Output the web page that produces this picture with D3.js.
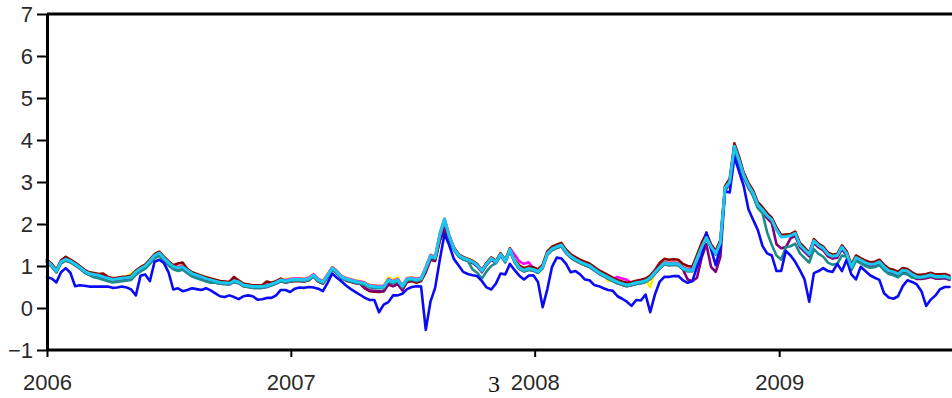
<!DOCTYPE html>
<html>
<head>
<meta charset="utf-8">
<script src="https://cdn.jsdelivr.net/npm/d3@7"></script>
<style>
  html, body { margin: 0; padding: 0; background: #fff; }
  svg { display: block; }
</style>
</head>
<body>
<svg id="chart" width="952" height="398"></svg>
<script>
// Weekly observations starting on the first Sunday of 2006
const weekStart = new Date(2006, 0, 1);

const yTicks = [-1, 0, 1, 2, 3, 4, 5, 6, 7];
const xTickYears = [2006, 2007, 2008, 2009];

const darkRedSeries = [
1.15,1.05,0.91,1.13,1.22,1.15,1.08,1.00,0.91,0.85,
0.83,0.81,0.82,0.74,0.71,0.72,0.74,0.75,0.77,0.89,
0.97,1.03,1.15,1.28,1.34,1.22,1.11,1.02,1.06,1.08,
0.93,0.85,0.81,0.77,0.73,0.70,0.67,0.64,0.63,0.62,
0.74,0.65,0.58,0.56,0.54,0.54,0.54,0.63,0.60,0.64,
0.70,0.60,0.63,0.64,0.64,0.63,0.66,0.76,0.63,0.58,
0.74,0.93,0.84,0.71,0.65,0.62,0.59,0.57,0.46,0.40,
0.39,0.38,0.40,0.56,0.52,0.57,0.44,0.62,0.64,0.60,
0.64,0.85,1.15,1.12,1.60,1.88,1.65,1.44,1.28,1.21,
1.17,1.12,1.04,0.90,1.07,1.20,1.12,1.30,1.14,1.42,
1.14,1.01,0.95,0.99,0.97,0.92,1.03,1.35,1.46,1.51,
1.55,1.39,1.28,1.21,1.15,1.10,1.06,0.98,0.90,0.84,
0.78,0.72,0.67,0.63,0.60,0.62,0.65,0.67,0.70,0.77,
0.90,1.07,1.17,1.15,1.16,1.15,1.05,1.00,0.98,1.26,
1.55,1.78,1.52,1.36,1.62,2.90,3.08,3.92,3.60,3.22,
2.98,2.80,2.52,2.40,2.26,2.15,1.92,1.74,1.75,1.76,
1.82,1.55,1.44,1.32,1.64,1.53,1.46,1.32,1.27,1.29,
1.49,1.35,1.03,1.25,1.19,1.13,1.09,1.10,1.15,1.03,
0.94,0.91,0.86,0.95,0.93,0.85,0.79,0.79,0.81,0.84,
0.80,0.80,0.81,0.77];

const purpleSeries = [
1.09,0.99,0.85,1.07,1.13,1.09,1.02,0.94,0.85,0.79,
0.77,0.75,0.71,0.68,0.65,0.66,0.68,0.69,0.71,0.83,
0.91,0.97,1.09,1.22,1.28,1.16,1.05,0.96,0.92,0.95,
0.87,0.79,0.75,0.71,0.67,0.64,0.61,0.58,0.57,0.56,
0.62,0.59,0.52,0.50,0.48,0.48,0.48,0.50,0.54,0.58,
0.64,0.61,0.64,0.65,0.65,0.64,0.67,0.75,0.64,0.59,
0.75,0.92,0.83,0.71,0.66,0.63,0.60,0.58,0.48,0.42,
0.41,0.40,0.40,0.57,0.52,0.57,0.42,0.66,0.67,0.64,
0.67,0.88,1.18,1.14,1.62,1.90,1.66,1.39,1.23,1.16,
1.12,1.07,0.99,0.85,1.02,1.15,1.07,1.25,1.09,1.37,
1.09,0.93,0.87,0.91,0.89,0.84,0.95,1.27,1.38,1.43,
1.47,1.31,1.20,1.13,1.07,1.02,0.98,0.90,0.82,0.76,
0.70,0.64,0.59,0.55,0.52,0.54,0.57,0.59,0.62,0.69,
0.82,0.94,1.04,1.02,1.03,1.02,0.92,0.68,0.64,0.72,
1.20,1.52,0.98,0.86,1.22,2.80,2.95,3.78,3.45,3.10,
2.86,2.68,2.40,2.28,2.14,2.02,1.52,1.42,1.45,1.66,
1.72,1.45,1.34,1.23,1.55,1.44,1.37,1.23,1.18,1.20,
1.40,1.25,0.93,1.15,1.09,1.03,0.99,1.00,1.05,0.93,
0.84,0.81,0.76,0.85,0.83,0.75,0.69,0.69,0.71,0.74,
0.70,0.70,0.71,0.67];

const magentaSeries = [
1.14,1.04,0.90,1.12,1.18,1.14,1.07,0.99,0.90,0.84,
0.82,0.80,0.76,0.73,0.70,0.71,0.73,0.74,0.76,0.88,
0.96,1.02,1.14,1.27,1.33,1.21,1.10,1.01,0.97,1.00,
0.92,0.84,0.80,0.76,0.72,0.69,0.66,0.63,0.62,0.61,
0.67,0.64,0.57,0.55,0.53,0.53,0.53,0.55,0.59,0.63,
0.69,0.66,0.69,0.70,0.70,0.69,0.72,0.80,0.69,0.64,
0.80,0.97,0.88,0.76,0.71,0.68,0.65,0.63,0.60,0.54,
0.53,0.52,0.52,0.69,0.64,0.69,0.54,0.71,0.72,0.69,
0.72,0.97,1.26,1.22,1.77,2.12,1.74,1.44,1.28,1.21,
1.17,1.12,1.04,0.90,1.07,1.20,1.12,1.30,1.14,1.42,
1.27,1.11,1.05,1.09,0.94,0.89,1.00,1.32,1.43,1.48,
1.52,1.36,1.25,1.18,1.12,1.07,1.03,0.95,0.87,0.81,
0.75,0.69,0.74,0.70,0.67,0.59,0.62,0.64,0.67,0.74,
0.87,0.99,1.09,1.07,1.08,1.07,0.97,0.92,0.92,1.20,
1.47,1.70,1.48,1.32,1.57,2.88,3.02,3.87,3.54,3.18,
2.94,2.76,2.48,2.36,2.22,2.12,1.88,1.71,1.72,1.74,
1.80,1.52,1.41,1.30,1.62,1.51,1.44,1.30,1.25,1.27,
1.47,1.32,1.00,1.22,1.16,1.10,1.06,1.07,1.12,1.00,
0.91,0.88,0.83,0.92,0.90,0.82,0.76,0.76,0.78,0.81,
0.77,0.77,0.78,0.74];

const yellowSeries = [
1.15,1.05,0.91,1.13,1.19,1.15,1.08,1.00,0.91,0.85,
0.83,0.81,0.77,0.74,0.71,0.72,0.74,0.75,0.82,0.89,
0.97,1.03,1.15,1.28,1.34,1.22,1.11,1.02,0.98,1.01,
0.93,0.85,0.81,0.77,0.73,0.70,0.67,0.64,0.63,0.62,
0.68,0.65,0.58,0.56,0.54,0.54,0.54,0.56,0.60,0.64,
0.70,0.67,0.70,0.71,0.71,0.70,0.73,0.81,0.70,0.65,
0.81,0.98,0.89,0.77,0.72,0.69,0.66,0.64,0.61,0.55,
0.54,0.53,0.53,0.73,0.68,0.73,0.55,0.72,0.73,0.70,
0.73,0.98,1.27,1.23,1.78,2.13,1.75,1.45,1.29,1.22,
1.18,1.13,1.05,0.91,1.08,1.21,1.13,1.31,1.15,1.43,
1.15,1.04,0.93,0.97,0.95,0.90,1.01,1.33,1.44,1.49,
1.53,1.37,1.26,1.19,1.13,1.08,1.04,0.96,0.88,0.82,
0.64,0.70,0.65,0.61,0.58,0.60,0.63,0.65,0.68,0.50,
0.88,1.00,1.10,1.08,1.09,1.08,0.98,0.93,0.93,1.21,
1.48,1.71,1.49,1.33,1.58,2.89,3.03,3.88,3.55,3.19,
2.95,2.77,2.49,2.37,2.23,2.13,1.89,1.72,1.73,1.75,
1.81,1.53,1.42,1.31,1.63,1.52,1.45,1.31,1.26,1.28,
1.48,1.33,1.01,1.23,1.17,1.11,1.07,1.08,1.13,1.01,
0.92,0.89,0.84,0.93,0.91,0.83,0.77,0.77,0.79,0.82,
0.78,0.78,0.79,0.75];

const tealSeries = [
1.09,0.99,0.85,1.07,1.13,1.09,1.02,0.94,0.85,0.79,
0.73,0.71,0.67,0.64,0.61,0.62,0.64,0.65,0.67,0.79,
0.87,0.93,1.05,1.18,1.24,1.12,1.01,0.92,0.88,0.91,
0.83,0.75,0.71,0.67,0.63,0.60,0.61,0.58,0.57,0.56,
0.62,0.59,0.52,0.50,0.48,0.48,0.48,0.50,0.54,0.58,
0.64,0.61,0.64,0.65,0.65,0.64,0.67,0.75,0.64,0.59,
0.75,0.92,0.83,0.71,0.66,0.63,0.60,0.58,0.55,0.49,
0.48,0.47,0.47,0.64,0.59,0.64,0.49,0.66,0.67,0.64,
0.67,0.92,1.21,1.17,1.72,2.07,1.69,1.39,1.23,1.16,
1.12,0.92,0.84,0.70,0.87,1.00,1.07,1.25,1.09,1.37,
1.09,0.93,0.87,0.91,0.89,0.84,0.95,1.27,1.38,1.43,
1.47,1.31,1.20,1.13,1.07,1.02,0.98,0.90,0.82,0.76,
0.70,0.64,0.59,0.55,0.52,0.54,0.57,0.59,0.62,0.69,
0.82,0.94,1.04,1.02,1.03,1.02,0.92,0.87,0.87,1.15,
1.42,1.65,1.43,1.27,1.52,2.83,2.97,3.82,3.49,3.13,
2.89,2.66,2.38,2.26,1.80,1.50,1.25,1.15,1.45,1.47,
1.53,1.30,1.19,1.08,1.40,1.29,1.22,1.08,1.03,1.05,
1.25,1.22,0.90,1.12,1.06,1.00,0.96,0.97,1.02,0.90,
0.81,0.78,0.73,0.82,0.80,0.72,0.72,0.72,0.74,0.77,
0.73,0.73,0.74,0.70];

const blueSeries = [
0.74,0.70,0.61,0.85,0.95,0.84,0.52,0.54,0.53,0.51,
0.51,0.51,0.51,0.51,0.48,0.49,0.51,0.49,0.44,0.30,
0.77,0.80,0.64,1.10,1.15,1.07,0.85,0.44,0.47,0.40,
0.43,0.47,0.45,0.43,0.47,0.42,0.35,0.28,0.26,0.30,
0.26,0.21,0.28,0.30,0.28,0.20,0.21,0.24,0.24,0.30,
0.43,0.43,0.38,0.46,0.49,0.48,0.50,0.49,0.46,0.40,
0.60,0.82,0.72,0.63,0.53,0.45,0.38,0.31,0.24,0.19,
0.19,-0.10,0.08,0.14,0.30,0.30,0.34,0.45,0.50,0.52,
0.51,-0.52,0.15,0.48,1.15,1.76,1.50,1.17,1.02,0.86,
0.81,0.78,0.76,0.64,0.49,0.44,0.58,0.82,0.80,1.05,
0.90,0.77,0.68,0.77,0.78,0.62,0.02,0.45,0.98,1.20,
1.18,1.05,0.85,0.88,0.80,0.68,0.66,0.55,0.52,0.47,
0.43,0.41,0.28,0.22,0.15,0.05,0.19,0.18,0.32,-0.10,
0.32,0.62,0.74,0.74,0.76,0.76,0.66,0.60,0.64,0.98,
1.25,1.80,1.40,1.02,1.45,2.78,2.75,3.60,3.25,2.90,
2.35,2.10,1.86,1.48,1.30,1.25,0.88,0.88,1.36,1.25,
1.10,0.90,0.68,0.15,0.83,0.88,0.95,0.88,0.86,1.05,
0.88,1.15,0.80,0.68,0.98,0.88,0.78,0.72,0.67,0.35,
0.25,0.22,0.28,0.52,0.66,0.62,0.56,0.40,0.05,0.20,
0.30,0.45,0.50,0.50];

const cyanSeries = [
1.12,1.02,0.88,1.10,1.16,1.12,1.05,0.97,0.88,0.82,
0.80,0.78,0.74,0.71,0.68,0.69,0.71,0.72,0.74,0.86,
0.94,1.00,1.12,1.25,1.31,1.19,1.08,0.99,0.95,0.98,
0.90,0.82,0.78,0.74,0.70,0.67,0.64,0.61,0.60,0.59,
0.65,0.62,0.55,0.53,0.51,0.51,0.51,0.53,0.57,0.61,
0.67,0.64,0.67,0.68,0.68,0.67,0.70,0.78,0.67,0.62,
0.78,0.95,0.86,0.74,0.69,0.66,0.63,0.61,0.58,0.52,
0.51,0.50,0.50,0.67,0.62,0.67,0.52,0.69,0.70,0.67,
0.70,0.95,1.24,1.20,1.75,2.12,1.72,1.42,1.26,1.19,
1.15,1.10,1.02,0.88,1.05,1.18,1.10,1.28,1.12,1.40,
1.12,0.96,0.90,0.94,0.92,0.87,0.98,1.30,1.41,1.46,
1.50,1.34,1.23,1.16,1.10,1.05,1.01,0.93,0.85,0.79,
0.73,0.67,0.62,0.58,0.55,0.57,0.60,0.62,0.65,0.72,
0.85,0.97,1.07,1.05,1.06,1.05,0.95,0.90,0.90,1.18,
1.45,1.68,1.46,1.30,1.55,2.86,3.00,3.85,3.52,3.16,
2.92,2.74,2.46,2.34,2.20,2.10,1.86,1.69,1.70,1.72,
1.78,1.50,1.39,1.28,1.60,1.49,1.42,1.28,1.23,1.25,
1.45,1.30,0.98,1.20,1.14,1.08,1.04,1.05,1.10,0.98,
0.89,0.86,0.81,0.90,0.88,0.80,0.74,0.74,0.76,0.79,
0.75,0.75,0.76,0.72];

const dates = d3.range(cyanSeries.length).map(i => d3.timeWeek.offset(weekStart, i));

// Drawing order: last entry ends up on top
const series = [
  { values: yellowSeries,  color: "#ffee00", width: 2.6 },
  { values: magentaSeries, color: "#ff00ff", width: 2.6 },
  { values: darkRedSeries, color: "#8b0000", width: 2.6 },
  { values: purpleSeries,  color: "#800080", width: 2.6 },
  { values: tealSeries,    color: "#1e8c8c", width: 2.6 },
  { values: blueSeries,    color: "#0a0af5", width: 2.6 },
  { values: cyanSeries,    color: "#18c8f0", width: 3 }
];

const svg = d3.select("#chart");
const plotLeft = 47, plotTop = 14, plotBottom = 350, viewRight = 952;

const x = d3.scaleTime()
  .domain([new Date(2006, 0, 1), new Date(2010, 0, 1)])
  .range([plotLeft, plotLeft + 976]);

const y = d3.scaleLinear()
  .domain([-1, 7])
  .range([plotBottom, plotTop]);

const fontFamily = "'Liberation Sans', Arial, Helvetica, sans-serif";

// Series lines
const line = d3.line()
  .x((d, i) => x(dates[i]))
  .y(d => y(d))
  .curve(d3.curveLinear);

svg.append("g")
  .selectAll("path")
  .data(series)
  .join("path")
  .attr("fill", "none")
  .attr("stroke", d => d.color)
  .attr("stroke-width", d => d.width)
  .attr("stroke-linejoin", "round")
  .attr("stroke-linecap", "round")
  .attr("d", d => line(d.values));

// Top frame line
svg.append("line")
  .attr("x1", plotLeft).attr("x2", viewRight)
  .attr("y1", y(7)).attr("y2", y(7))
  .attr("stroke", "#000").attr("stroke-width", 2.8);

// Left axis
const yAxis = svg.append("g")
  .attr("transform", `translate(${plotLeft},0)`)
  .call(d3.axisLeft(y).tickValues(yTicks).tickSize(10).tickSizeOuter(0).tickPadding(4));
yAxis.select(".domain").attr("stroke", "#000").attr("stroke-width", 3);
yAxis.selectAll(".tick line").attr("stroke", "#000").attr("stroke-width", 2);
yAxis.selectAll(".tick text")
  .attr("font-family", fontFamily)
  .attr("font-size", 22)
  .attr("fill", "#2a2a2a");

// Bottom axis
const yearDates = xTickYears.map(yr => new Date(yr, 0, 1));
const xAxis = svg.append("g")
  .attr("transform", `translate(0,${plotBottom})`)
  .call(d3.axisBottom(x).tickValues(yearDates).tickFormat(d3.timeFormat("%Y"))
    .tickSize(7).tickSizeOuter(0));
xAxis.select(".domain").attr("stroke", "#000").attr("stroke-width", 3)
  .attr("d", `M${plotLeft},0H${viewRight}`);
xAxis.selectAll(".tick line").attr("stroke", "#000").attr("stroke-width", 2);
xAxis.selectAll(".tick text")
  .attr("font-family", fontFamily)
  .attr("font-size", 22)
  .attr("fill", "#2a2a2a")
  .attr("dy", null)
  .attr("y", 40);

// Page number
svg.append("text")
  .attr("x", 494)
  .attr("y", 392)
  .attr("text-anchor", "middle")
  .attr("font-family", "'Liberation Serif', 'Times New Roman', serif")
  .attr("font-size", 24)
  .attr("fill", "#111")
  .text("3");
</script>
</body>
</html>
